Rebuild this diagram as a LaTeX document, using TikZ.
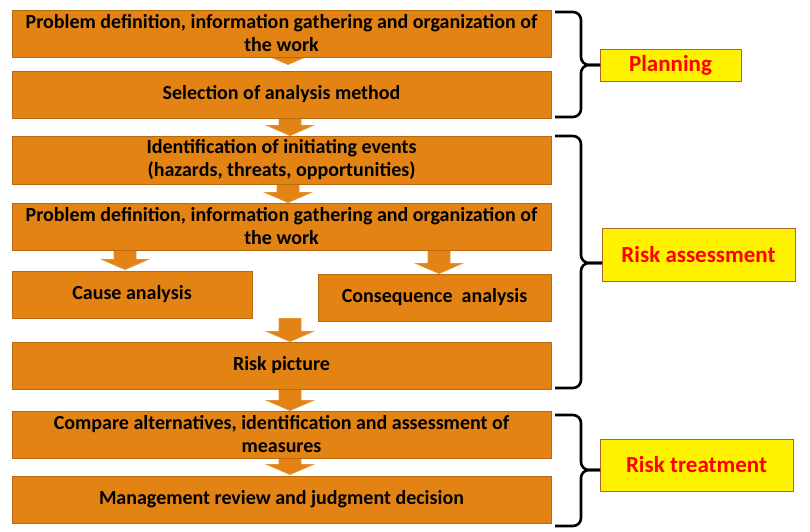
\documentclass[tikz,border=0pt]{standalone}
\usepackage{fontspec}
\setmainfont{Carlito}
\usetikzlibrary{calc,backgrounds}
\definecolor{boxfill}{RGB}{227,131,20}
\definecolor{boxdraw}{RGB}{185,105,15}
\definecolor{arrdraw}{RGB}{230,145,50}
\definecolor{labdraw}{RGB}{170,105,30}
\tikzset{
  stage/.style={draw=boxdraw, fill=boxfill, line width=1pt, inner sep=0pt,
    align=center, font=\fontsize{20}{23}\selectfont\bfseries, text=black},
  phase/.style={draw=labdraw, fill=yellow, line width=1pt, inner sep=0pt,
    font=\fontsize{23}{26}\selectfont\bfseries, text=red},
  blockarrow/.style={fill=boxfill, draw=arrdraw, line width=0.8pt},
  brace/.style={draw=black, line width=2.6pt, rounded corners=8pt},
}
\newcommand{\barrow}[4]{%
  \path[blockarrow] let \p1=(#1), \p2=(#2) in
    (#3pt-11pt,\y1) -- (#3pt+11pt,\y1) -- (#3pt+11pt,\y2-#4pt+10pt) -- (#3pt+23pt,\y2-#4pt+10pt)
    -- (#3pt,\y2-#4pt) -- (#3pt-23pt,\y2-#4pt+10pt) -- (#3pt-11pt,\y2-#4pt+10pt) -- cycle;}
\begin{document}
\begin{tikzpicture}[x=1pt,y=-1pt]
\useasboundingbox (0,0) rectangle (810,531);
% stages
\node[stage, minimum width=539pt, minimum height=47pt] (b1) at (281.5,33.5)
  {Problem definition, information gathering and organization of\\the work};
\node[stage, minimum width=539pt, minimum height=47pt] (b2) at (281.5,94.5)
  {Selection of analysis method};
\node[stage, minimum width=539pt, minimum height=48pt] (b3) at (281.5,160)
  {Identification of initiating events\\(hazards, threats, opportunities)};
\node[stage, minimum width=539pt, minimum height=47pt] (b4) at (281.5,226.5)
  {Problem definition, information gathering and organization of\\the work};
\node[stage, minimum width=240pt, minimum height=47pt] (cause) at (132,294.5)
  {Cause analysis};
\node[stage, minimum width=233pt, minimum height=47pt] (cons) at (434.5,297.5)
  {Consequence\ \ analysis};
\node[stage, minimum width=539pt, minimum height=47pt] (risk) at (281.5,365.5)
  {Risk picture};
\node[stage, minimum width=539pt, minimum height=47pt] (comp) at (281.5,434.5)
  {Compare alternatives, identification and assessment of\\measures};
\node[stage, minimum width=539pt, minimum height=47pt] (mgmt) at (281.5,499.5)
  {Management review and judgment decision};
% block arrows behind
\begin{scope}[on background layer]
\barrow{b1.south}{b2.north}{288}{-6}
\barrow{b2.south}{b3.north}{290}{0}
\barrow{b3.south}{b4.north}{288}{0}
\barrow{b4.south}{cause.north}{125}{-1}
\barrow{b4.south}{cons.north}{439}{0}
\barrow{cause.south}{risk.north}{290}{0}
\barrow{risk.south}{comp.north}{290}{0}
\barrow{comp.south}{mgmt.north}{290}{-1}
\end{scope}
% phase labels
\node[phase, minimum width=141pt, minimum height=32pt] (plan) at (670.5,65) {Planning};
\node[phase, minimum width=193pt, minimum height=53pt] (assess) at (698.5,254.5) {Risk assessment};
\node[phase, minimum width=193pt, minimum height=52pt] (treat) at (696.5,465) {Risk treatment};
% braces
\coordinate (pt) at (600,65);
\coordinate (at) at (602,263);
\coordinate (tt) at (600,470);
\draw[brace] (555,12) -- (581,12) -- (581,65) -- (pt);
\draw[brace] (555,117) -- (581,117) -- (581,65) -- (pt);
\draw[brace] (555,136) -- (581,136) -- (581,263) -- (at);
\draw[brace] (555,388) -- (581,388) -- (581,263) -- (at);
\draw[brace] (555,415) -- (581,415) -- (581,470) -- (tt);
\draw[brace] (555,526) -- (581,526) -- (581,470) -- (tt);
\end{tikzpicture}
\end{document}
